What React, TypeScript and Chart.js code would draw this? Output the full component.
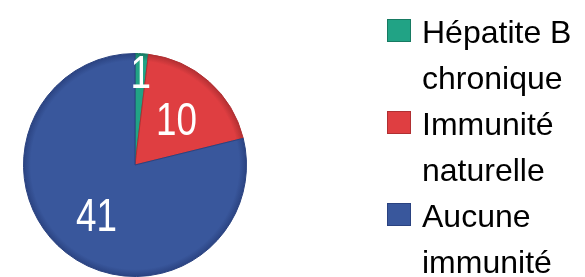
import React, { useEffect, useRef } from "react";
import { Chart, registerables } from "chart.js";

Chart.register(...registerables);

const categories = ["Hépatite B chronique", "Immunité naturelle", "Aucune immunité"];
const legendLines = [["Hépatite B", "chronique"], ["Immunité", "naturelle"], ["Aucune", "immunité"]];
const values = [1, 10, 41];
const colors = ["#21A385", "#DF3E41", "#39579C"];
const rimColors = ["#177A62", "#B02F32", "#2A4280"];

const W = 585;
const H = 277;

const labelPlugin = {
  id: "sliceLabels",
  afterDatasetsDraw(chart: any) {
    const ctx = chart.ctx;
    const meta = chart.getDatasetMeta(0);
    const data = chart.data.datasets[0].data as number[];
    const total = data.reduce((a, b) => a + b, 0);
    const size = 46;
    const cap = size * 0.716;
    ctx.save();
    ctx.fillStyle = "#FFFFFF";
    ctx.font = `${size}px "Liberation Sans", Arial, sans-serif`;
    ctx.textAlign = "center";
    ctx.textBaseline = "alphabetic";
    meta.data.forEach((arc: any, i: number) => {
      const p = arc.getProps(["x", "y", "startAngle", "endAngle", "outerRadius"], true);
      const mid = (p.startAngle + p.endAngle) / 2;
      const f = data[i] / total < 0.05 ? 0.84 : 0.56;
      const x = p.x + Math.cos(mid) * p.outerRadius * f;
      const y = p.y + Math.sin(mid) * p.outerRadius * f;
      ctx.save();
      ctx.translate(x, y + cap / 2);
      ctx.scale(0.8, 1);
      ctx.fillText(String(data[i]), 0, 0);
      ctx.restore();
    });
    ctx.restore();
  },
};

const legendPlugin = {
  id: "sideLegend",
  afterDraw(chart: any) {
    const ctx = chart.ctx;
    const boxX = 387;
    const boxSize = 24;
    const textX = 422;
    const firstBaseline = 43;
    const lineH = 46;
    ctx.save();
    ctx.font = `32px "Liberation Sans", Arial, sans-serif`;
    ctx.textAlign = "left";
    ctx.textBaseline = "alphabetic";
    let line = 0;
    legendLines.forEach((lines, i) => {
      const base = firstBaseline + line * lineH;
      ctx.fillStyle = colors[i];
      ctx.fillRect(boxX, base - boxSize, boxSize, boxSize - 1);
      ctx.strokeStyle = rimColors[i];
      ctx.lineWidth = 1;
      ctx.strokeRect(boxX + 0.5, base - boxSize + 0.5, boxSize - 1, boxSize - 2);
      ctx.fillStyle = "#000000";
      lines.forEach((t) => {
        ctx.fillText(t, textX, firstBaseline + line * lineH);
        line++;
      });
    });
    ctx.restore();
  },
};

function sliceFill(c: any) {
  const i = c.dataIndex;
  const chart = c.chart;
  const area = chart.chartArea;
  if (!area) return colors[i];
  const cx = (area.left + area.right) / 2;
  const cy = (area.top + area.bottom) / 2;
  const r = Math.min(area.right - area.left, area.bottom - area.top) / 2;
  const g = chart.ctx.createRadialGradient(cx, cy, 0, cx, cy, r);
  g.addColorStop(0, colors[i]);
  g.addColorStop(0.93, colors[i]);
  g.addColorStop(1, rimColors[i]);
  return g;
}

export default function App() {
  const ref = useRef<HTMLCanvasElement | null>(null);
  useEffect(() => {
    document.body.style.margin = "0";
    const canvas = ref.current!;
    const chart = new Chart(canvas, {
      type: "pie",
      data: {
        labels: categories,
        datasets: [
          {
            data: values,
            backgroundColor: sliceFill,
            borderColor: rimColors,
            borderWidth: 1,
          },
        ],
      },
      options: {
        responsive: false,
        animation: false,
        devicePixelRatio: 1,
        layout: { padding: { left: 22, right: 337, top: 53, bottom: 0 } },
        plugins: {
          legend: { display: false },
          tooltip: { enabled: false },
          title: { display: false },
        },
      },
      plugins: [labelPlugin, legendPlugin],
    });
    return () => chart.destroy();
  }, []);
  return (
    <div style={{ width: W, height: H, background: "#FFFFFF" }}>
      <canvas ref={ref} width={W} height={H} style={{ display: "block" }} />
    </div>
  );
}
